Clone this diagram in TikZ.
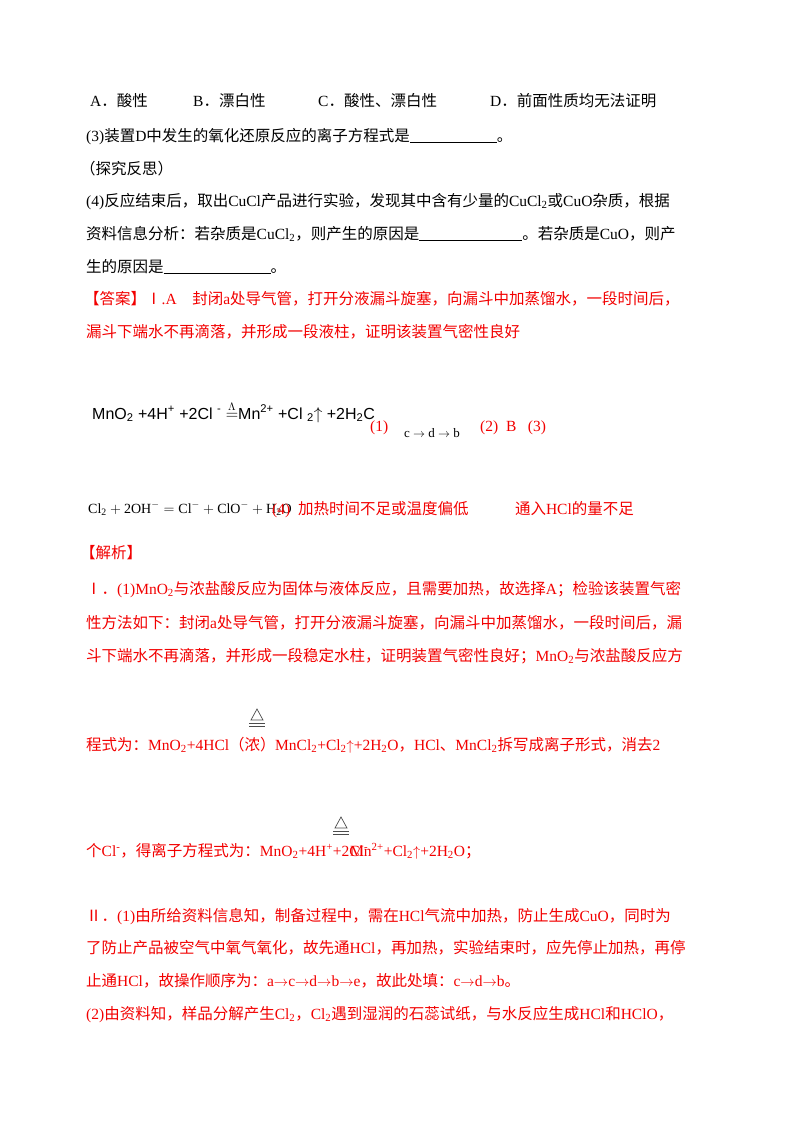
\documentclass[tikz,border=0pt]{standalone}
\usepackage{fontspec}
\setmainfont{Liberation Serif}
\newfontfamily\cjk{Noto Sans CJK SC}
\newfontfamily\chemsans{Liberation Sans}
\usetikzlibrary{positioning}

% CJK runs switch font automatically
\XeTeXinterchartokenstate=1
\newXeTeXintercharclass\CJKcls
\newcount\cc
\def\setcls#1#2{\cc=#1 \loop\XeTeXcharclass\cc=\CJKcls\advance\cc by 1 \ifnum\cc<#2\repeat}
\setcls{"4E00}{"A000}
\setcls{"3000}{"3040}
\setcls{"FF00}{"FFF0}
\setcls{"2160}{"2170}
\XeTeXinterchartoks 0 \CJKcls = {\begingroup\cjk}
\XeTeXinterchartoks 4095 \CJKcls = {\begingroup\cjk}
\XeTeXinterchartoks \CJKcls 0 = {\endgroup}
\XeTeXinterchartoks \CJKcls 4095 = {\endgroup}

\newcommand\dn[1]{\textsubscript{#1}}
\newcommand\hi[1]{\textsuperscript{#1}}
\newcommand\blank[1]{\rule[-2bp]{#1bp}{0.6bp}}

\begin{document}
\begin{tikzpicture}[x=1bp,y=-1bp]

	\colorlet{anscolor}{red!95!black}

	% Styles
	\tikzset{
		txt/.style={anchor=base west, inner sep=0, font=\fontsize{15.5bp}{18bp}\selectfont},
		ans/.style={txt, anscolor},
		heat/.style={gray!60!black, line width=0.7bp}
	}

	\useasboundingbox (0,0) rectangle (800,1129);

	%== Question ================================================================
	\node[txt] (qa) at (90,106) {A．酸性};
	\node[txt] (qb) at (193,106) {B．漂白性};
	\node[txt] (qc) at (318,106) {C．酸性、漂白性};
	\node[txt] (qd) at (490,106) {D．前面性质均无法证明};
	\node[txt] (q3) at (86,141) {(3)装置D中发生的氧化还原反应的离子方程式是\blank{87}。};
	\node[txt] (refl) at (80,174) {（探究反思）};
	\node[txt] (q4a) at (86,206) {(4)反应结束后，取出CuCl产品进行实验，发现其中含有少量的CuCl\dn{2}或CuO杂质，根据};
	\node[txt] (q4b) at (86,239) {资料信息分析：若杂质是CuCl\dn{2}，则产生的原因是\blank{103}。若杂质是CuO，则产};
	\node[txt] (q4c) at (86,272) {生的原因是\blank{107}。};

	%== Answer ==================================================================
	\node[ans] (ansa) at (84,304) {【答案】Ⅰ.A\quad 封闭a处导气管，打开分液漏斗旋塞，向漏斗中加蒸馏水，一段时间后，};
	\node[ans] (ansb) at (86,337) {漏斗下端水不再滴落，并形成一段液柱，证明该装置气密性良好};

	\node[anchor=base west, inner sep=0, font=\chemsans\fontsize{16bp}{18bp}\selectfont] (eqion) at (92,419)
		{MnO\dn{2} +4H\hi{+} +2Cl \hi{-} $\stackrel{\Lambda}{=}$Mn\hi{2+} +Cl \dn{2}$\uparrow$ +2H\dn{2}C};
	\node[ans] (a1) at (370,431) {(1)};
	\node[anchor=base west, inner sep=0, font=\fontsize{13bp}{15bp}\selectfont] (a1v) at (404,437) {c $\rightarrow$ d $\rightarrow$ b};
	\node[ans] (a2) at (480,431) {(2)\enspace B\enspace\ (3)};

	\node[anchor=base west, inner sep=0, font=\fontsize{14bp}{16bp}\selectfont] (eqcl) at (88,513)
		{$\mathrm{Cl_2+2OH^-=Cl^-+ClO^-+H_2O}$};
	\node[ans] (a4) at (272,514) {(4)\enspace 加热时间不足或温度偏低\qquad\quad 通入HCl的量不足};

	%== Analysis ================================================================
	\node[ans] (jx) at (80,558) {【解析】};
	\node[ans] (l1) at (86,594) {Ⅰ．(1)MnO\dn{2}与浓盐酸反应为固体与液体反应，且需要加热，故选择A；检验该装置气密};
	\node[ans] (l2) at (86,628) {性方法如下：封闭a处导气管，打开分液漏斗旋塞，向漏斗中加蒸馏水，一段时间后，漏};
	\node[ans] (l3) at (86,661) {斗下端水不再滴落，并形成一段稳定水柱，证明装置气密性良好；MnO\dn{2}与浓盐酸反应方};
	\node[ans] (l4a) at (86,750) {程式为：MnO\dn{2}+4HCl（浓）};
	\node[ans] (l4b) at (275,750) {MnCl\dn{2}+Cl\dn{2}$\uparrow$+2H\dn{2}O，HCl、MnCl\dn{2}拆写成离子形式，消去2};
	\node[ans] (l5a) at (86,856) {个Cl\hi{-}，得离子方程式为：MnO\dn{2}+4H\hi{+}+2Cl\hi{-}};
	\node[ans] (l5b) at (350,856) {Mn\hi{2+}+Cl\dn{2}$\uparrow$+2H\dn{2}O；};

	% Heating marks
	\foreach \hx/\hy in {257/718, 341/826}{
		\draw[heat] (\hx-6,\hy+2) -- (\hx,\hy-9) -- (\hx+6,\hy+2) -- cycle;
		\draw[heat] (\hx-8,\hy+5) -- (\hx+8,\hy+5);
		\draw[heat] (\hx-8,\hy+8) -- (\hx+8,\hy+8);
	}

	\node[ans] (m1) at (86,921) {Ⅱ．(1)由所给资料信息知，制备过程中，需在HCl气流中加热，防止生成CuO，同时为};
	\node[ans] (m2) at (86,953) {了防止产品被空气中氧气氧化，故先通HCl，再加热，实验结束时，应先停止加热，再停};
	\node[ans] (m3) at (86,986) {止通HCl，故操作顺序为：a$\rightarrow$c$\rightarrow$d$\rightarrow$b$\rightarrow$e，故此处填：c$\rightarrow$d$\rightarrow$b。};
	\node[ans] (m4) at (86,1019) {(2)由资料知，样品分解产生Cl\dn{2}，Cl\dn{2}遇到湿润的石蕊试纸，与水反应生成HCl和HClO，};

\end{tikzpicture}
\end{document}
